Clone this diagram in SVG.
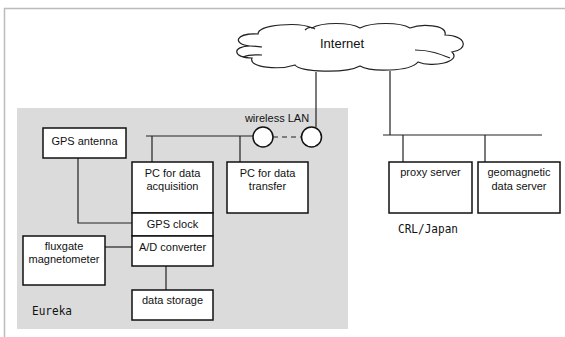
<svg xmlns="http://www.w3.org/2000/svg" width="565" height="337" viewBox="0 0 565 337">
<style>
.box{fill:#fff;stroke:#111;stroke-width:1.5}
.ln{fill:none;stroke:#222;stroke-width:1.2}
.t{font-family:"Liberation Sans",Arial,sans-serif;font-size:11px;fill:#111;text-anchor:middle}
.m{font-family:"DejaVu Sans Mono","Liberation Mono",monospace;font-size:13px;fill:#111}
</style>
<rect width="565" height="337" fill="#fff"/>
<path d="M4.5,337 V8.5 H565" fill="none" stroke="#bbb" stroke-width="1.5"/>
<rect x="17" y="108" width="331" height="221" fill="#dbdbdb"/>
<g id="cloud">
<path class="ln" d="M250,46 C232,44 235,33 258,34 C258,24 300,22 312,28 C322,22 350,22 360,28 C372,22 400,22 410,28 C420,24 448,24 445,35 C468,36 468,50 452,52 C462,62 432,68 418,62 C410,72 370,72 360,66 C345,74 300,72 295,65 C280,70 248,68 252,58 C232,58 232,46 250,46 Z" stroke="#111" stroke-width="1.4"/>
<path class="ln" d="M415,50 C430,50 440,54 450,58 M243,57 C250,54 256,55 262,55 M305,30 C308,27 312,27 315,29 M250,46 C255,46 260,47 262,47"/>
<text x="342" y="48" class="t" style="font-size:13px">Internet</text>
</g>
<g id="connectors">
<path class="ln" d="M316,72 V127"/>
<path class="ln" d="M390,71 V135 M383,135 H542 M403,135 V162 M485,135 V162"/>
<path class="ln" d="M146,136 H253 M152,136 V162 M240,136 V162"/>
<path class="ln" d="M273,137 H301" stroke-dasharray="5,4"/>
<path class="ln" d="M78,158 V223 H132"/>
<path class="ln" d="M105,247 H132"/>
<path class="ln" d="M166,266 V290"/>
</g>
<g id="wlan">
<circle cx="263" cy="137" r="10" class="box"/>
<circle cx="311.5" cy="137" r="10" class="box"/>
<text x="277" y="122" class="t">wireless LAN</text>
</g>
<g id="gps-antenna"><rect x="43" y="128" width="83" height="30" class="box"/><text x="84.5" y="145" class="t">GPS antenna</text></g>
<g id="pc-acq"><rect x="132" y="162" width="81" height="51" class="box"/><text x="172.5" y="177" class="t">PC for data</text><text x="172.5" y="190" class="t">acquisition</text></g>
<g id="gps-clock"><rect x="132" y="213" width="81" height="23" class="box"/><text x="172.5" y="228" class="t">GPS clock</text></g>
<g id="ad"><rect x="132" y="236" width="81" height="30" class="box"/><text x="172.5" y="251" class="t">A/D converter</text></g>
<g id="pc-transfer"><rect x="227" y="162" width="81" height="51" class="box"/><text x="267.5" y="177" class="t">PC for data</text><text x="267.5" y="190" class="t">transfer</text></g>
<g id="fluxgate"><rect x="23" y="236" width="82" height="49" class="box"/><text x="64" y="250" class="t">fluxgate</text><text x="64" y="263" class="t">magnetometer</text></g>
<g id="storage"><rect x="132" y="290" width="81" height="30" class="box"/><text x="172.5" y="304" class="t">data storage</text></g>
<g id="proxy"><rect x="389" y="162" width="83" height="51" class="box"/><text x="430.5" y="176" class="t">proxy server</text></g>
<g id="geo"><rect x="478" y="162" width="82" height="51" class="box"/><text x="519" y="176" class="t">geomagnetic</text><text x="519" y="190" class="t">data server</text></g>
<text x="32" y="315" class="m" textLength="40" lengthAdjust="spacingAndGlyphs">Eureka</text>
<text x="398" y="233" class="m" textLength="60" lengthAdjust="spacingAndGlyphs">CRL/Japan</text>
</svg>
